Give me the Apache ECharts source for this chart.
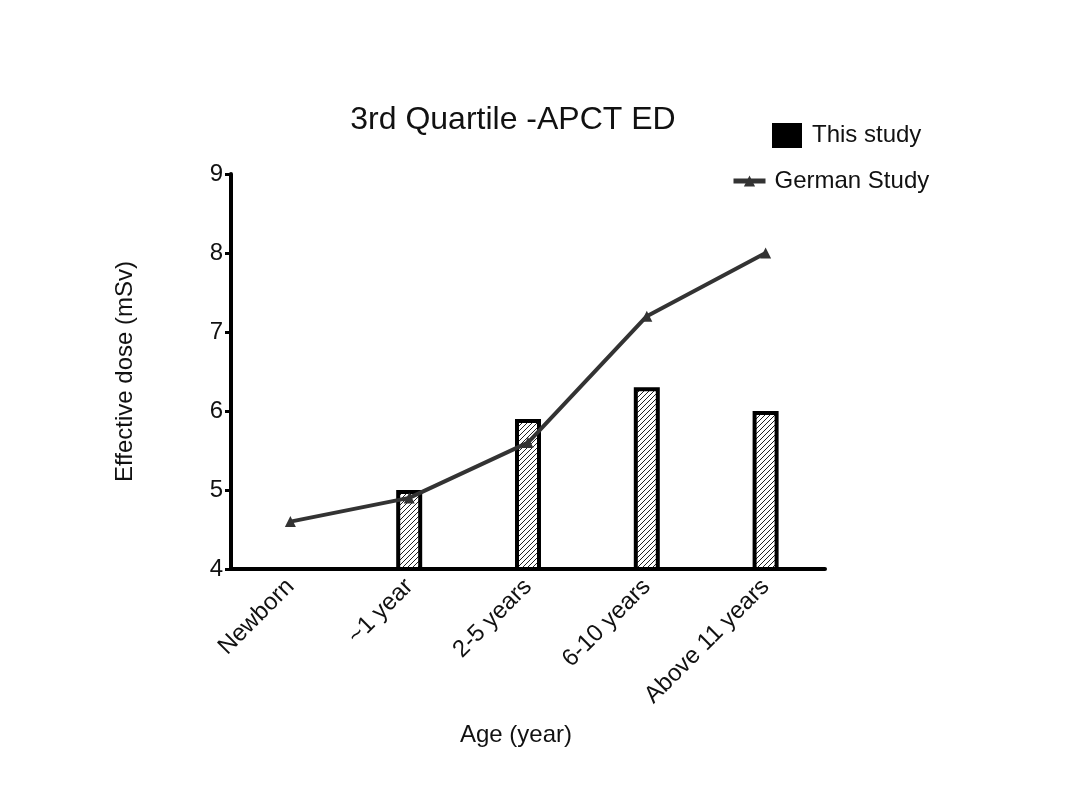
<!DOCTYPE html>
<html><head><meta charset="utf-8">
<script src="https://cdn.jsdelivr.net/npm/echarts@6/dist/echarts.min.js"></script>
<style>html,body{margin:0;padding:0;background:#fff}#c{width:1088px;height:802px}</style>
</head><body><div id="c"></div>
<script>
const categories = ['Newborn', '~1 year', '2-5 years', '6-10 years', 'Above 11 years'];
const thisStudy = ['-', 5.0, 5.9, 6.3, 6.0];
const germanStudy = [4.6, 4.9, 5.6, 7.2, 8.0];
const yTicks = [4, 5, 6, 7, 8, 9];

const pc = document.createElement('canvas');
pc.width = 5; pc.height = 5;
const g = pc.getContext('2d');
g.fillStyle = '#fff'; g.fillRect(0,0,5,5);
g.strokeStyle = '#222'; g.lineWidth = 1;
g.beginPath(); g.moveTo(-1,6); g.lineTo(6,-1); g.stroke();
g.beginPath(); g.moveTo(-1,1); g.lineTo(1,-1); g.stroke();
g.beginPath(); g.moveTo(4,6); g.lineTo(6,4); g.stroke();

const font = 'Liberation Sans, Arial, sans-serif';
const chart = echarts.init(document.getElementById('c'));
chart.setOption({
  backgroundColor: '#fff',
  animation: false,
  title: { text: '3rd Quartile -APCT ED', left: 508, top: 99, textAlign: 'center',
    textStyle: { fontFamily: font, fontSize: 32, fontWeight: 'normal', color: '#111' } },
  legend: [
    { data: [{ name: 'This study', icon: 'rect', itemStyle: { color: '#000', borderColor: '#000' } }],
      left: 767, top: 118, itemWidth: 28, itemHeight: 23, itemGap: 10,
      textStyle: { fontFamily: font, fontSize: 24, color: '#111', padding: [0,0,0,6] } },
    { data: ['German Study'], left: 726, top: 164, itemWidth: 32, itemHeight: 14,
      lineStyle: { width: 5, color: '#333' },
      textStyle: { fontFamily: font, fontSize: 24, color: '#111', padding: [0,0,0,4] } }
  ],
  grid: { left: 231, right: 263, top: 174, bottom: 233, containLabel: false },
  xAxis: {
    type: 'category', data: categories,
    name: 'Age (year)', nameLocation: 'middle', nameGap: 154,
    nameTextStyle: { fontFamily: font, fontSize: 24, color: '#111', padding: [0, 24, 0, 0] },
    axisLine: { lineStyle: { color: '#000', width: 4 } },
    axisTick: { alignWithLabel: true, length: 7, lineStyle: { color: '#000', width: 3 } },
    axisLabel: { rotate: 45, fontFamily: font, fontSize: 24, color: '#111', margin: 14 }
  },
  yAxis: {
    type: 'value', min: 4, max: 9, interval: 1,
    name: 'Effective dose (mSv)', nameLocation: 'middle', nameGap: 94,
    nameTextStyle: { fontFamily: font, fontSize: 24, color: '#111' },
    axisLine: { show: true, lineStyle: { color: '#000', width: 4 } },
    axisTick: { show: true, length: 6, lineStyle: { color: '#000', width: 3 } },
    splitLine: { show: false },
    axisLabel: { fontFamily: font, fontSize: 24, color: '#111', margin: 8,
      formatter: v => yTicks.includes(v) ? String(v) : '' }
  },
  series: [
    { name: 'This study', type: 'bar', data: thisStudy, barWidth: 26,
      itemStyle: { color: { image: pc, repeat: 'repeat' }, borderColor: '#000', borderWidth: 4 } },
    { name: 'German Study', type: 'line', data: germanStudy, symbol: 'triangle', symbolSize: 11,
      lineStyle: { color: '#333', width: 4 }, itemStyle: { color: '#333' } }
  ]
});
</script></body></html>
